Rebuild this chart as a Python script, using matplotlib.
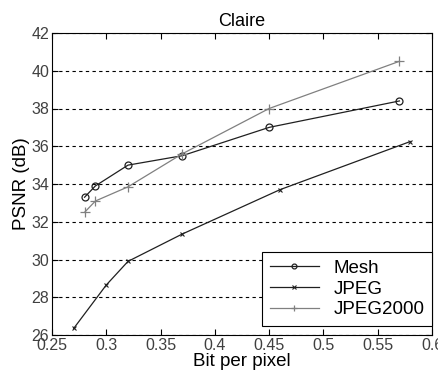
import matplotlib
matplotlib.use('Agg')
import matplotlib.pyplot as plt

plt.rcParams['font.family'] = ['Liberation Sans', 'DejaVu Sans']

mesh_x = [0.28, 0.29, 0.32, 0.37, 0.45, 0.57]
mesh_y = [33.3, 33.9, 35.0, 35.5, 37.0, 38.4]
jpeg_x = [0.27, 0.30, 0.32, 0.37, 0.46, 0.58]
jpeg_y = [26.35, 28.65, 29.9, 31.35, 33.7, 36.25]
j2k_x = [0.28, 0.29, 0.32, 0.37, 0.45, 0.57]
j2k_y = [32.5, 33.1, 33.85, 35.6, 38.0, 40.5]

fig = plt.figure(figsize=(4.38, 3.72), dpi=100)
ax = fig.add_axes([52/438, 1-335/372, 380/438, 302/372])

ax.plot(mesh_x, mesh_y, color='#202020', lw=0.9, marker='o', ms=5, mfc='none', mew=0.9, label='Mesh')
ax.plot(jpeg_x, jpeg_y, color='#202020', lw=0.9, marker='x', ms=3.5, mew=0.8, label='JPEG')
ax.plot(j2k_x, j2k_y, color='#808080', lw=0.9, marker='+', ms=7, mew=0.9, label='JPEG2000')

ax.set_xlim(0.25, 0.6)
ax.set_ylim(26, 42)
ax.set_xticks([0.25, 0.3, 0.35, 0.4, 0.45, 0.5, 0.55, 0.6])
ax.set_xticklabels(['0.25', '0.3', '0.35', '0.4', '0.45', '0.5', '0.55', '0.6'])
ax.set_yticks(range(26, 43, 2))
ax.yaxis.grid(True, color='black', linestyle=(0, (3, 3)), lw=0.8)
ax.tick_params(direction='in', labelsize=11.5, labelcolor='#404040', length=4,
	top=True, right=True, pad=2)
for s in ax.spines.values():
	s.set_linewidth(0.8)

ax.set_title('Claire', fontsize=13, pad=5)
ax.set_xlabel('Bit per pixel', fontsize=13.5, labelpad=0)
ax.set_ylabel('PSNR (dB)', fontsize=13.5, labelpad=1)

leg = ax.legend(loc='lower right', bbox_to_anchor=(1.0, 0.03), fontsize=13.5,
	fancybox=False, framealpha=1, edgecolor='black', borderaxespad=0,
	handlelength=2.6, labelspacing=0.2, borderpad=0.4, markerscale=0.7)
leg.get_frame().set_linewidth(0.8)

fig.savefig('out.png', dpi=100)
